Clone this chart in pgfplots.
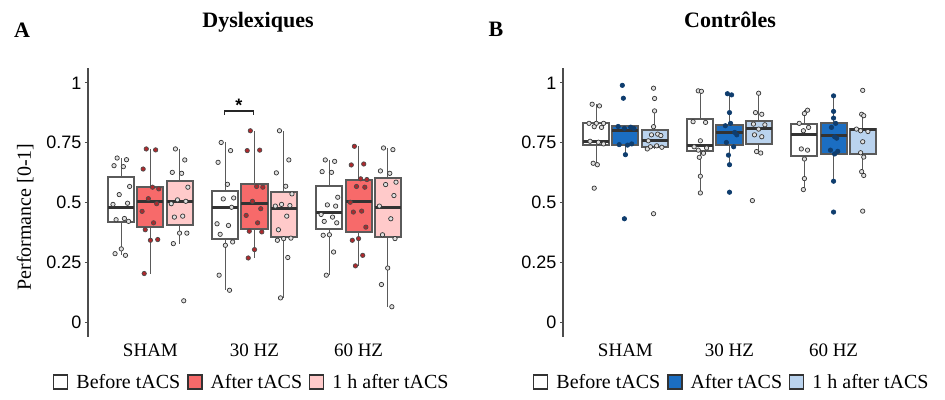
\documentclass[border=0pt]{standalone}
\usepackage{pgfplots}
\pgfplotsset{compat=1.18}
\usepgfplotslibrary{statistics}
\usepackage{fontspec}
\setmainfont{Liberation Serif}
\setsansfont{Liberation Sans}
\definecolor{redA}{HTML}{F76A6A}
\definecolor{pinkA}{HTML}{FFCACA}
\definecolor{blueB}{HTML}{1B6EC2}
\definecolor{lblueB}{HTML}{BAD3EE}
\definecolor{ptred}{HTML}{B0282C}
\definecolor{ptblue}{HTML}{0F3D6E}
\definecolor{boxline}{HTML}{5A5A5A}
\newcommand{\bx}[7]{\addplot[forget plot, fill=#1, draw=boxline, line width=2pt, boxplot prepared={draw direction=y, draw position=#2, lower whisker=#3, lower quartile=#4, median=#5, upper quartile=#6, upper whisker=#7, box extend=0.25, whisker extend=0}] coordinates {};}
\pgfplotsset{
 sq/.style={legend image code/.code={\draw[##1] (0pt,-7pt) rectangle (14pt,7pt);}},
 panel/.style={
  scale only axis, width=333pt, height=269pt,
  xmin=0.4, xmax=3.6, ymin=-0.0625, ymax=1.0625,
  axis y line=left, axis x line=bottom,
  x axis line style={draw=none},
  y axis line style={-, draw=black!70, line width=1.5pt},
  xtick={1,2,3}, xticklabels={SHAM,30 HZ,60 HZ},
  xtick style={draw=none},
  xticklabel style={font=\fontsize{19}{21}\selectfont},
  ytick={0,0.25,0.5,0.75,1}, yticklabels={0,0.25,0.5,0.75,1},
  yticklabel style={font=\sffamily\fontsize{18}{20}\selectfont},
  ytick style={draw=black!70, line width=1pt},
  tick align=outside, major tick length=3pt,
  clip=false,
  boxplot/every box/.style={draw=boxline, line width=2pt},
  boxplot/every whisker/.style={draw=boxline, line width=1.5pt},
  boxplot/every median/.style={draw=black!80, line width=2.8pt},
  legend columns=3,
  legend style={draw=none, fill=none, font=\fontsize{20}{22}\selectfont,
    anchor=west, cells={anchor=west},
    /tikz/every even column/.append style={column sep=5pt},
    /tikz/every odd column/.append style={column sep=6pt}},
 },
 ptg/.style={only marks, mark=*, mark size=2.2pt, mark options={fill=black!12, draw=black!80, line width=0.7pt}, forget plot},
 ptr/.style={only marks, mark=*, mark size=2.2pt, mark options={fill=ptred, draw=black!70, line width=0.7pt}, forget plot},
 ptb/.style={only marks, mark=*, mark size=2.2pt, mark options={fill=ptblue, draw=ptblue, line width=0.7pt}, forget plot},
}
\begin{document}
\begin{tikzpicture}
\useasboundingbox (0,0) rectangle (945pt,399pt);
\node[anchor=base, font=\bfseries\fontsize{22}{24}\selectfont] at (22pt,361pt) {A};
\node[anchor=base, font=\bfseries\fontsize{22}{24}\selectfont] at (258pt,371pt) {Dyslexiques};
\node[anchor=base, font=\bfseries\fontsize{22}{24}\selectfont] at (496pt,362pt) {B};
\node[anchor=base, font=\bfseries\fontsize{22}{24}\selectfont] at (730pt,371pt) {Contrôles};

% ---------------- Panel A ----------------
\begin{axis}[panel, at={(88pt,62pt)}, anchor=south west,
  ylabel={Performance [0-1]},
  ylabel style={at={(axis description cs:-0.189,0.446)}, anchor=center, font=\fontsize{20}{22}\selectfont},
  legend style={at={(axis description cs:-0.114,-0.167)}}]
\addlegendimage{sq, draw=black!80, fill=white, line width=1.2pt}
\addlegendentry{Before tACS}
\addlegendimage{sq, draw=black!80, fill=redA, line width=1.2pt}
\addlegendentry{After tACS}
\addlegendimage{sq, draw=black!80, fill=pinkA, line width=1.2pt}
\addlegendentry{1 h after tACS}
\bx{white}{0.72}{0.279}{0.420}{0.480}{0.608}{0.686}
\bx{redA}{1.00}{0.203}{0.397}{0.504}{0.564}{0.724}
\bx{pinkA}{1.28}{0.328}{0.407}{0.505}{0.589}{0.724}
\bx{white}{1.72}{0.133}{0.349}{0.480}{0.550}{0.751}
\bx{redA}{2.00}{0.268}{0.390}{0.497}{0.578}{0.800}
\bx{pinkA}{2.28}{0.101}{0.356}{0.476}{0.543}{0.800}
\bx{white}{2.72}{0.196}{0.390}{0.457}{0.568}{0.678}
\bx{redA}{3.00}{0.235}{0.376}{0.504}{0.596}{0.735}
\bx{pinkA}{3.28}{0.064}{0.356}{0.480}{0.603}{0.728}
\addplot[ptg] coordinates {(0.68,0.686)(0.77,0.679)(0.65,0.654)(0.74,0.650)(0.80,0.567)(0.70,0.533)(0.78,0.497)(0.64,0.492)(0.75,0.433)(0.67,0.428)(0.79,0.421)(0.72,0.306)(0.66,0.286)(0.76,0.279)};
\addplot[ptr] coordinates {(0.96,0.724)(1.05,0.720)(0.93,0.640)(1.02,0.564)(1.08,0.557)(0.98,0.516)(1.06,0.495)(0.92,0.463)(1.03,0.415)(0.95,0.386)(1.07,0.345)(1.00,0.342)(0.94,0.203)};
\addplot[ptg] coordinates {(1.24,0.724)(1.33,0.678)(1.21,0.626)(1.30,0.622)(1.36,0.564)(1.26,0.511)(1.34,0.505)(1.20,0.495)(1.31,0.443)(1.23,0.439)(1.35,0.372)(1.28,0.372)(1.22,0.328)(1.32,0.089)};
\addplot[ptg] coordinates {(1.68,0.751)(1.77,0.717)(1.65,0.668)(1.74,0.576)(1.80,0.519)(1.70,0.515)(1.78,0.480)(1.64,0.411)(1.75,0.404)(1.67,0.367)(1.79,0.335)(1.72,0.321)(1.66,0.196)(1.76,0.133)};
\addplot[ptr] coordinates {(1.96,0.800)(2.05,0.719)(1.93,0.717)(2.02,0.567)(2.08,0.564)(1.98,0.505)(2.06,0.474)(1.92,0.446)(2.03,0.415)(1.95,0.380)(2.07,0.377)(2.00,0.303)(1.94,0.268)};
\addplot[ptg] coordinates {(2.24,0.800)(2.33,0.678)(2.21,0.624)(2.30,0.568)(2.36,0.536)(2.26,0.492)(2.34,0.487)(2.20,0.485)(2.31,0.443)(2.23,0.386)(2.35,0.351)(2.28,0.349)(2.22,0.342)(2.32,0.270)(2.25,0.101)};
\addplot[ptg] coordinates {(2.68,0.678)(2.77,0.672)(2.65,0.629)(2.74,0.626)(2.80,0.522)(2.70,0.490)(2.78,0.485)(2.64,0.450)(2.75,0.439)(2.67,0.421)(2.79,0.415)(2.72,0.365)(2.66,0.363)(2.76,0.293)(2.69,0.196)};
\addplot[ptr] coordinates {(2.96,0.735)(3.05,0.661)(2.93,0.657)(3.02,0.599)(3.08,0.596)(2.98,0.567)(3.06,0.564)(2.92,0.501)(3.03,0.464)(2.95,0.460)(3.07,0.397)(3.00,0.349)(2.94,0.342)(3.04,0.279)(2.97,0.235)};
\addplot[ptg] coordinates {(3.24,0.728)(3.33,0.721)(3.21,0.632)(3.30,0.622)(3.36,0.585)(3.26,0.575)(3.34,0.529)(3.20,0.485)(3.31,0.432)(3.23,0.365)(3.35,0.349)(3.28,0.226)(3.22,0.157)(3.32,0.064)};
\draw[black!85, line width=1.2pt] (axis cs:1.71,0.867) -- (axis cs:1.71,0.883) -- (axis cs:1.99,0.883) -- (axis cs:1.99,0.867);
\node[font=\sffamily\bfseries\fontsize{18}{20}\selectfont] at (axis cs:1.85,0.905) {*};
\end{axis}

% ---------------- Panel B ----------------
\begin{axis}[panel, at={(563pt,62pt)}, anchor=south west,
  legend style={at={(axis description cs:-0.099,-0.167)}}]
\addlegendimage{sq, draw=black!80, fill=white, line width=1.2pt}
\addlegendentry{Before tACS}
\addlegendimage{sq, draw=black!80, fill=blueB, line width=1.2pt}
\addlegendentry{After tACS}
\addlegendimage{sq, draw=black!80, fill=lblueB, line width=1.2pt}
\addlegendentry{1 h after tACS}
\bx{white}{0.72}{0.658}{0.740}{0.756}{0.831}{0.911}
\bx{blueB}{1.00}{0.700}{0.742}{0.800}{0.818}{0.818}
\bx{lblueB}{1.28}{0.724}{0.733}{0.758}{0.804}{0.883}
\bx{white}{1.72}{0.540}{0.714}{0.738}{0.849}{0.967}
\bx{blueB}{2.00}{0.658}{0.742}{0.793}{0.825}{0.956}
\bx{lblueB}{2.28}{0.707}{0.746}{0.808}{0.842}{0.957}
\bx{white}{2.72}{0.554}{0.693}{0.783}{0.828}{0.886}
\bx{blueB}{3.00}{0.589}{0.703}{0.779}{0.832}{0.946}
\bx{lblueB}{3.28}{0.613}{0.703}{0.804}{0.807}{0.869}
\addplot[ptg] coordinates {(0.68,0.911)(0.75,0.904)(0.65,0.831)(0.72,0.831)(0.79,0.831)(0.70,0.817)(0.77,0.814)(0.66,0.756)(0.74,0.752)(0.79,0.745)(0.69,0.664)(0.73,0.658)(0.70,0.560)};
\addplot[ptb] coordinates {(0.97,0.990)(0.98,0.936)(0.93,0.818)(1.05,0.815)(1.08,0.810)(0.99,0.810)(1.06,0.745)(0.94,0.742)(1.02,0.740)(1.00,0.700)(0.99,0.432)};
\addplot[ptg] coordinates {(1.27,0.978)(1.28,0.935)(1.28,0.883)(1.27,0.817)(1.31,0.786)(1.25,0.783)(1.34,0.780)(1.22,0.758)(1.30,0.737)(1.24,0.733)(1.35,0.731)(1.21,0.724)(1.27,0.453)};
\addplot[ptg] coordinates {(1.70,0.967)(1.73,0.965)(1.65,0.838)(1.77,0.835)(1.72,0.758)(1.66,0.733)(1.78,0.728)(1.70,0.719)(1.75,0.706)(1.71,0.689)(1.72,0.610)(1.72,0.540)};
\addplot[ptb] coordinates {(1.98,0.955)(2.02,0.950)(2.00,0.876)(2.01,0.831)(1.96,0.821)(2.05,0.793)(2.07,0.783)(1.97,0.751)(2.04,0.733)(1.99,0.698)(2.00,0.658)(2.00,0.543)};
\addplot[ptg] coordinates {(2.28,0.957)(2.25,0.876)(2.31,0.869)(2.23,0.828)(2.34,0.825)(2.28,0.807)(2.24,0.783)(2.31,0.775)(2.26,0.713)(2.30,0.707)(2.22,0.508)};
\addplot[ptg] coordinates {(2.75,0.886)(2.72,0.872)(2.67,0.831)(2.76,0.814)(2.71,0.800)(2.69,0.724)(2.75,0.719)(2.72,0.682)(2.72,0.600)(2.71,0.554)};
\addplot[ptb] coordinates {(3.00,0.946)(3.00,0.881)(3.00,0.853)(3.02,0.831)(2.98,0.814)(3.01,0.775)(3.03,0.769)(2.97,0.719)(3.04,0.714)(3.01,0.703)(3.00,0.589)(3.00,0.460)};
\addplot[ptg] coordinates {(3.28,0.969)(3.27,0.869)(3.29,0.863)(3.22,0.807)(3.26,0.800)(3.33,0.797)(3.28,0.754)(3.26,0.708)(3.29,0.690)(3.27,0.629)(3.29,0.613)(3.28,0.464)};
\end{axis}
\end{tikzpicture}
\end{document}
